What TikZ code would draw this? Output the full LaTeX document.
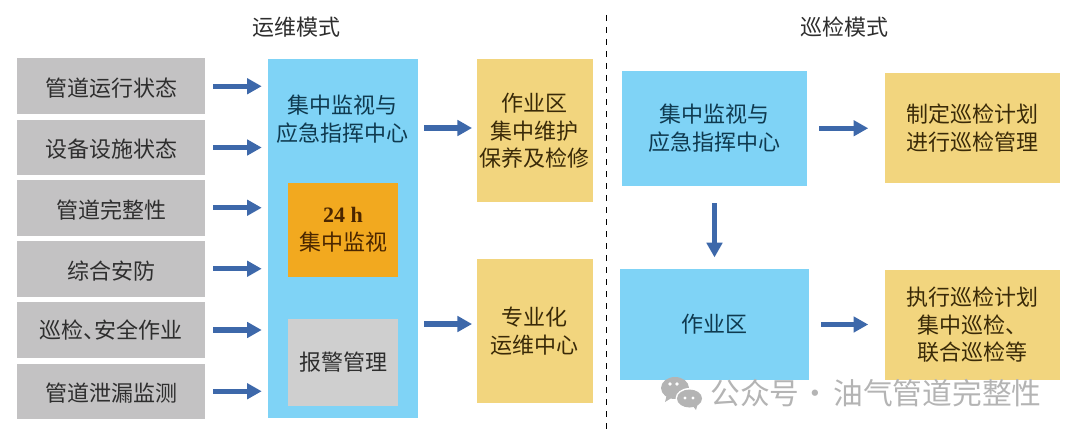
\documentclass[tikz,border=0pt]{standalone}
\usepackage{fontspec}
\setmainfont{Noto Sans CJK SC}
\newfontfamily\latinserif{Liberation Serif}
\usetikzlibrary{arrows.meta}
\definecolor{graybox}{HTML}{C3C2C3}
\definecolor{graybox2}{HTML}{CFCFCF}
\definecolor{bluebox}{HTML}{7FD3F6}
\definecolor{orangebox}{HTML}{F2A91F}
\definecolor{yellowbox}{HTML}{F2D57E}
\definecolor{arrowblue}{HTML}{3D68AA}
\definecolor{inkblue}{HTML}{0F3A50}
\definecolor{inkyellow}{HTML}{3A2A08}
\definecolor{inkorange}{HTML}{4A2600}
\definecolor{inkgray}{HTML}{2E2E2E}
\definecolor{wm}{HTML}{B4B4B4}
\tikzset{
  x=0.75pt,y=-0.75pt,
  txt/.style={font=\fontsize{16.5}{20.6}\selectfont,align=center,inner sep=0pt},
  grayb/.style={txt,fill=graybox,text=inkgray},
  blueb/.style={txt,fill=bluebox,text=inkblue},
  yellowb/.style={txt,fill=yellowbox,text=inkyellow},
  flow/.style={draw=arrowblue,line width=3.8pt,-{Triangle[length=11pt,width=11.5pt]}},
  flowh/.style={flow,shorten <=4.5pt,shorten >=3.5pt},
}
\newcommand{\pbox}[7][]{\node[#1,minimum width={(#5-#3)*0.75pt},minimum height={(#6-#4)*0.75pt}] (#2) at ({(#3+#5)/2},{(#4+#6)/2}) {#7};}
\newcommand{\dn}[1]{\raisebox{-1.5pt}[\height][\depth]{#1}}
\begin{document}
\begin{tikzpicture}
\useasboundingbox (0,0) rectangle (1074,435);
\node[txt,text=inkgray] (t1) at (296.5,27) {运维模式};
\node[txt,text=inkgray] (t2) at (844,27) {巡检模式};
\coordinate (dtop) at (606.5,15);
\coordinate (dbot) at (606.5,430);
\draw[black,line width=1.1pt,dash pattern=on 4.5pt off 4.5pt] (dtop) -- (dbot);
\pbox[grayb]{g1}{17}{58.5}{205}{114}{\dn{管道运行状态}}
\pbox[grayb]{g2}{17}{120}{205}{175}{\dn{设备设施状态}}
\pbox[grayb]{g3}{17}{180}{205}{235.5}{\dn{管道完整性}}
\pbox[grayb]{g4}{17}{241}{205}{296.5}{\dn{综合安防}}
\pbox[grayb]{g5}{17}{302}{205}{358}{巡检、\hspace{-.5em}安全作业}
\pbox[grayb]{g6}{17}{363.5}{205}{419}{\dn{管道泄漏监测}}
\pbox[blueb]{c}{268}{59.5}{418}{418}{}
\node[txt,text=inkblue] (ct) at (342.5,119) {集中监视与\\应急指挥中心};
\pbox[txt,fill=orangebox,text=inkorange]{m1}{288}{183}{398}{276.5}{{\latinserif\bfseries 24 h}\\集中监视}
\pbox[txt,fill=graybox2,text=inkgray]{m2}{288}{319}{398}{406}{报警管理}
\pbox[yellowb]{y1}{477}{59.5}{592.5}{202}{作业区\\集中维护\\保养及检修}
\pbox[yellowb]{y2}{477}{259}{592.5}{403}{专业化\\运维中心}
\pbox[blueb]{b1}{622}{71}{807}{185.5}{集中监视与\\应急指挥中心}
\pbox[blueb]{b2}{620}{269}{808.5}{380}{作业区}
\pbox[yellowb]{y3}{884.5}{73.5}{1060}{183}{制定巡检计划\\进行巡检管理}
\pbox[yellowb]{y4}{884.5}{270}{1060}{379.5}{执行巡检计划\\集中巡检、\\联合巡检等}
\foreach \g in {g1,g2,g3,g4,g5,g6}{
  \draw[flow,shorten <=6pt,shorten >=4.5pt] (\g.east) -- (\g.east -| c.west);
}
\coordinate (ya) at (0,128);
\coordinate (yb) at (0,324);
\draw[flowh] (c.east |- ya) -- (y1.west |- ya);
\draw[flowh] (c.east |- yb) -- (y2.west |- yb);
\draw[flow,shorten <=9pt,shorten >=12pt] (b1.east) -- (b1.east -| y3.west);
\draw[flow,shorten <=9pt,shorten >=12pt] (b2.east) -- (b2.east -| y4.west);
\draw[flow,shorten <=13pt,shorten >=8.5pt] (b1.south) -- (b1.south |- b2.north);
% watermark
\node[inner sep=0pt,text=wm,font=\fontsize{22.3}{24}\selectfont,anchor=west] (wmk) at (710,393) {公众号\hspace{.05em}·\hspace{.09em}油气管道完整性};
\fill[wm] (675,388) ellipse (14 and 11);
\fill[wm] (665,402) -- (667,394) -- (673,397) -- cycle;
\fill[white] (670,384) circle (1.8);
\fill[white] (677,384) circle (1.8);
\fill[white] (689.5,398.5) ellipse (14 and 10.5);
\fill[wm] (689.5,398.5) ellipse (12.5 and 9);
\fill[wm] (696,410) -- (692,405) -- (698,403) -- cycle;
\fill[white] (685,398) circle (1.6);
\fill[white] (693,398) circle (1.6);
\end{tikzpicture}
\end{document}
